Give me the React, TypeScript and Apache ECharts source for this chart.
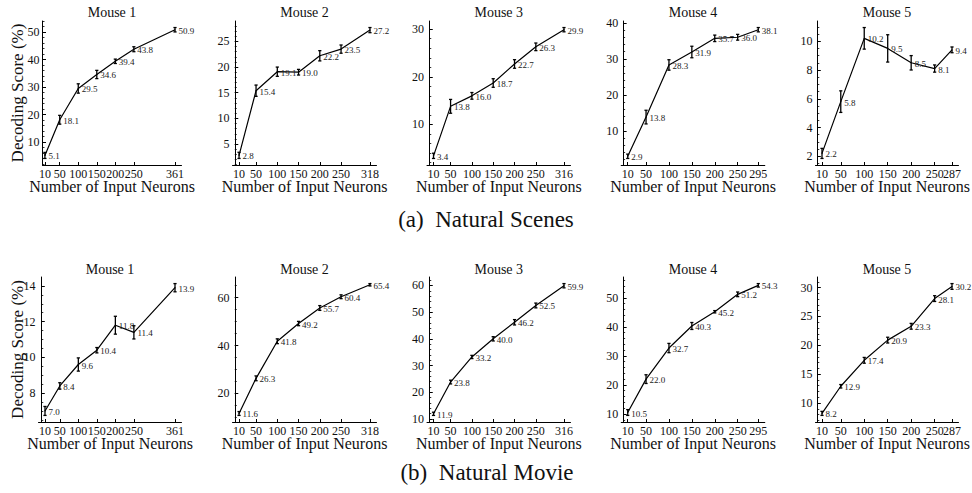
import React, { useEffect, useRef } from "react";
import * as echarts from "echarts";

// ---------------- data ----------------
const mouseTitles = ["Mouse 1", "Mouse 2", "Mouse 3", "Mouse 4", "Mouse 5"];
const mouseNeurons = [
  [10, 50, 100, 150, 200, 250, 361],
  [10, 50, 100, 150, 200, 250, 318],
  [10, 50, 100, 150, 200, 250, 316],
  [10, 50, 100, 150, 200, 250, 295],
  [10, 50, 100, 150, 200, 250, 287],
];

const scenesScores = [
  [5.1, 18.1, 29.5, 34.6, 39.4, 43.8, 50.9],
  [2.8, 15.4, 19.1, 19.0, 22.2, 23.5, 27.2],
  [3.4, 13.8, 16.0, 18.7, 22.7, 26.3, 29.9],
  [2.9, 13.8, 28.3, 31.9, 35.7, 36.0, 38.1],
  [2.2, 5.8, 10.2, 9.5, 8.5, 8.1, 9.4],
];
const scenesErrors = [
  [1.1, 1.6, 1.7, 1.5, 0.8, 0.9, 0.8],
  [0.6, 1.1, 0.9, 0.55, 1.0, 0.8, 0.5],
  [0.55, 1.45, 0.7, 0.9, 0.9, 0.8, 0.45],
  [0.6, 1.9, 1.45, 1.6, 0.9, 0.8, 0.6],
  [0.35, 0.75, 0.75, 0.95, 0.5, 0.25, 0.2],
];
const movieScores = [
  [7.0, 8.4, 9.6, 10.4, 11.8, 11.4, 13.9],
  [11.6, 26.3, 41.8, 49.2, 55.7, 60.4, 65.4],
  [11.9, 23.8, 33.2, 40.0, 46.2, 52.5, 59.9],
  [10.5, 22.0, 32.7, 40.3, 45.2, 51.2, 54.3],
  [8.2, 12.9, 17.4, 20.9, 23.3, 28.1, 30.2],
];
const movieErrors = [
  [0.25, 0.18, 0.37, 0.15, 0.5, 0.37, 0.23],
  [0.8, 1.0, 1.0, 0.9, 1.0, 0.8, 0.5],
  [0.6, 0.7, 0.6, 0.8, 1.0, 0.9, 0.8],
  [1.0, 1.5, 1.6, 1.2, 0.4, 0.8, 0.6],
  [0.35, 0.3, 0.5, 0.5, 0.5, 0.5, 0.5],
];

const scenesYTicks = [
  [10, 20, 30, 40, 50],
  [5, 10, 15, 20, 25],
  [10, 20, 30],
  [10, 20, 30, 40],
  [2, 4, 6, 8, 10],
];
const scenesMinorStep = [2, 1, 2, 2, 0.5];
const movieYTicks = [
  [8, 10, 12, 14],
  [20, 40, 60],
  [10, 20, 30, 40, 50, 60],
  [10, 20, 30, 40, 50],
  [10, 15, 20, 25, 30],
];
const movieMinorStep = [0.5, 5, 2, 2, 1];

const yAxisName = "Decoding Score (%)";
const xAxisName = "Number of Input Neurons";
const captions = ["(a)\u2002Natural Scenes", "(b)\u2002Natural Movie"];

// ---------------- layout ----------------
const FONT = "Liberation Serif, Times New Roman, serif";
const INK = "#111";
const rowTop = [21, 277];
const rowHeight = [144, 145];
const rowLefts = [
  [42.5, 232.5, 427, 621.2, 815.5],
  [38.5, 232.5, 427, 621.2, 815.5],
];
const colRights = [181.5, 376.5, 570.5, 764.8, 958.5];
const rowXMin = [
  [3.5, -5.4, -5.3, -4.25, -3.85],
  [-7.55, -5.4, -5.3, -4.25, -3.85],
];
const colXMax = [378.55, 333.4, 331.3, 309.25, 300.85];
const titleY = [12.6, 269.6];
const captionPos = [
  [486, 219],
  [487, 472],
];
const yNameGap = [16.5, 12.5];

function buildOption() {
  const grid: any[] = [];
  const xAxis: any[] = [];
  const yAxis: any[] = [];
  const series: any[] = [];
  const graphic: any[] = [];

  const rows = [
    { scores: scenesScores, errors: scenesErrors, ticks: scenesYTicks, minor: scenesMinorStep },
    { scores: movieScores, errors: movieErrors, ticks: movieYTicks, minor: movieMinorStep },
  ];

  const labelStyle = {
    fontFamily: FONT,
    fontSize: 12,
    color: INK,
    margin: 3,
    hideOverlap: false,
  };

  rows.forEach((row, r) => {
    for (let c = 0; c < 5; c++) {
      const idx = r * 5 + c;
      const xs = mouseNeurons[c];
      const ys = row.scores[c];
      const es = row.errors[c];
      const left = rowLefts[r][c];
      const right = colRights[c];
      let lo = Infinity;
      let hi = -Infinity;
      ys.forEach((v, i) => {
        lo = Math.min(lo, v - es[i]);
        hi = Math.max(hi, v + es[i]);
      });
      const pad = (hi - lo) * 0.05;
      const yMin = lo - pad;
      const yMax = hi + pad;
      const step = row.minor[c];
      const minors: number[] = [];
      for (let k = Math.ceil(yMin / step); k * step <= yMax; k++) {
        minors.push(Math.round(k * step * 1000) / 1000);
      }
      const xMain = xs.slice(0, xs.length - 1);
      const xLast = xs.slice(xs.length - 1);

      grid.push({ left, top: rowTop[r], width: right - left, height: rowHeight[r], containLabel: false });

      // main x axis (all ticks but the last label)
      xAxis.push({
        type: "value",
        gridIndex: idx,
        position: "bottom",
        min: rowXMin[r][c],
        max: colXMax[c],
        name: xAxisName,
        nameLocation: "middle",
        nameGap: 13,
        nameMoveOverlap: false,
        nameTextStyle: { fontFamily: FONT, fontSize: 16, color: INK },
        axisLine: { show: true, lineStyle: { color: "#000", width: 1 } },
        axisTick: { show: true, inside: true, length: 3, customValues: xs, lineStyle: { color: "#000" } },
        axisLabel: { ...labelStyle, customValues: xMain },
        splitLine: { show: false },
      });
      // overlay x axis carrying only the last label
      xAxis.push({
        type: "value",
        gridIndex: idx,
        position: "bottom",
        min: rowXMin[r][c],
        max: colXMax[c],
        axisLine: { show: false },
        axisTick: { show: false },
        axisLabel: { ...labelStyle, customValues: xLast },
        splitLine: { show: false },
      });

      yAxis.push({
        type: "value",
        gridIndex: idx,
        position: "left",
        min: yMin,
        max: yMax,
        name: c === 0 ? yAxisName : "",
        nameLocation: "middle",
        nameGap: yNameGap[r],
        nameRotate: 90,
        nameMoveOverlap: false,
        nameTextStyle: { fontFamily: FONT, fontSize: 17, color: INK },
        axisLine: { show: true, lineStyle: { color: "#000", width: 1 } },
        axisTick: { show: true, inside: true, length: 3.5, customValues: row.ticks[c], lineStyle: { color: "#000" } },
        axisLabel: { ...labelStyle, customValues: row.ticks[c] },
        splitLine: { show: false },
      });
      yAxis.push({
        type: "value",
        gridIndex: idx,
        position: "left",
        min: yMin,
        max: yMax,
        axisLine: { show: false },
        axisTick: { show: true, inside: true, length: 2, customValues: minors, lineStyle: { color: "#000", width: 0.8 } },
        axisLabel: { show: false },
        splitLine: { show: false },
      });

      series.push({
        type: "line",
        xAxisIndex: idx * 2,
        yAxisIndex: idx * 2,
        data: xs.map((x, i) => [x, ys[i]]),
        symbol: "circle",
        symbolSize: 1,
        showSymbol: true,
        color: "#000",
        lineStyle: { color: "#000", width: 1.2 },
        itemStyle: { color: "#000" },
        label: {
          show: true,
          position: "right",
          distance: 3,
          offset: [0, 1],
          fontFamily: FONT,
          fontSize: 9,
          color: "#222",
          textBorderWidth: 0,
          formatter: (p: any) => Number(p.value[1]).toFixed(1),
        },
        z: 2,
      });

      series.push({
        type: "custom",
        xAxisIndex: idx * 2,
        yAxisIndex: idx * 2,
        data: xs.map((x, i) => [x, ys[i] - es[i], ys[i] + es[i]]),
        encode: { x: 0, y: [1, 2] },
        color: "#000",
        renderItem: (_params: any, api: any) => {
          const x = api.value(0);
          const p1 = api.coord([x, api.value(1)]);
          const p2 = api.coord([x, api.value(2)]);
          const cap = 1.6;
          const st = { stroke: "#000", lineWidth: 1.3 };
          return {
            type: "group",
            children: [
              { type: "line", shape: { x1: p1[0], y1: p1[1], x2: p2[0], y2: p2[1] }, style: st },
              { type: "line", shape: { x1: p1[0] - cap, y1: p1[1], x2: p1[0] + cap, y2: p1[1] }, style: st },
              { type: "line", shape: { x1: p2[0] - cap, y1: p2[1], x2: p2[0] + cap, y2: p2[1] }, style: st },
            ],
          };
        },
        z: 3,
      });

      graphic.push({
        type: "text",
        x: (left + right) / 2,
        y: titleY[r],
        style: {
          text: mouseTitles[c],
          fontFamily: FONT,
          fontSize: 14,
          fill: INK,
          textAlign: "center",
          textVerticalAlign: "middle",
          align: "center",
          verticalAlign: "middle",
        },
      });
    }
  });

  captions.forEach((t, i) => {
    graphic.push({
      type: "text",
      x: captionPos[i][0],
      y: captionPos[i][1],
      style: {
        text: t,
        fontFamily: FONT,
        fontSize: 23,
        fill: INK,
        textAlign: "center",
        textVerticalAlign: "middle",
        align: "center",
        verticalAlign: "middle",
      },
    });
  });

  return {
    animation: false,
    backgroundColor: "#fff",
    textStyle: { fontFamily: FONT },
    grid,
    xAxis,
    yAxis,
    series,
    graphic,
  };
}

export default function App() {
  const ref = useRef<HTMLDivElement>(null);
  useEffect(() => {
    if (!ref.current) return;
    const chart = echarts.init(ref.current, null, { renderer: "svg" });
    chart.setOption(buildOption() as any);
    return () => chart.dispose();
  }, []);
  return (
    <div
      ref={ref}
      style={{ position: "absolute", left: 0, top: 0, width: 972, height: 493, background: "#fff" }}
    />
  );
}
